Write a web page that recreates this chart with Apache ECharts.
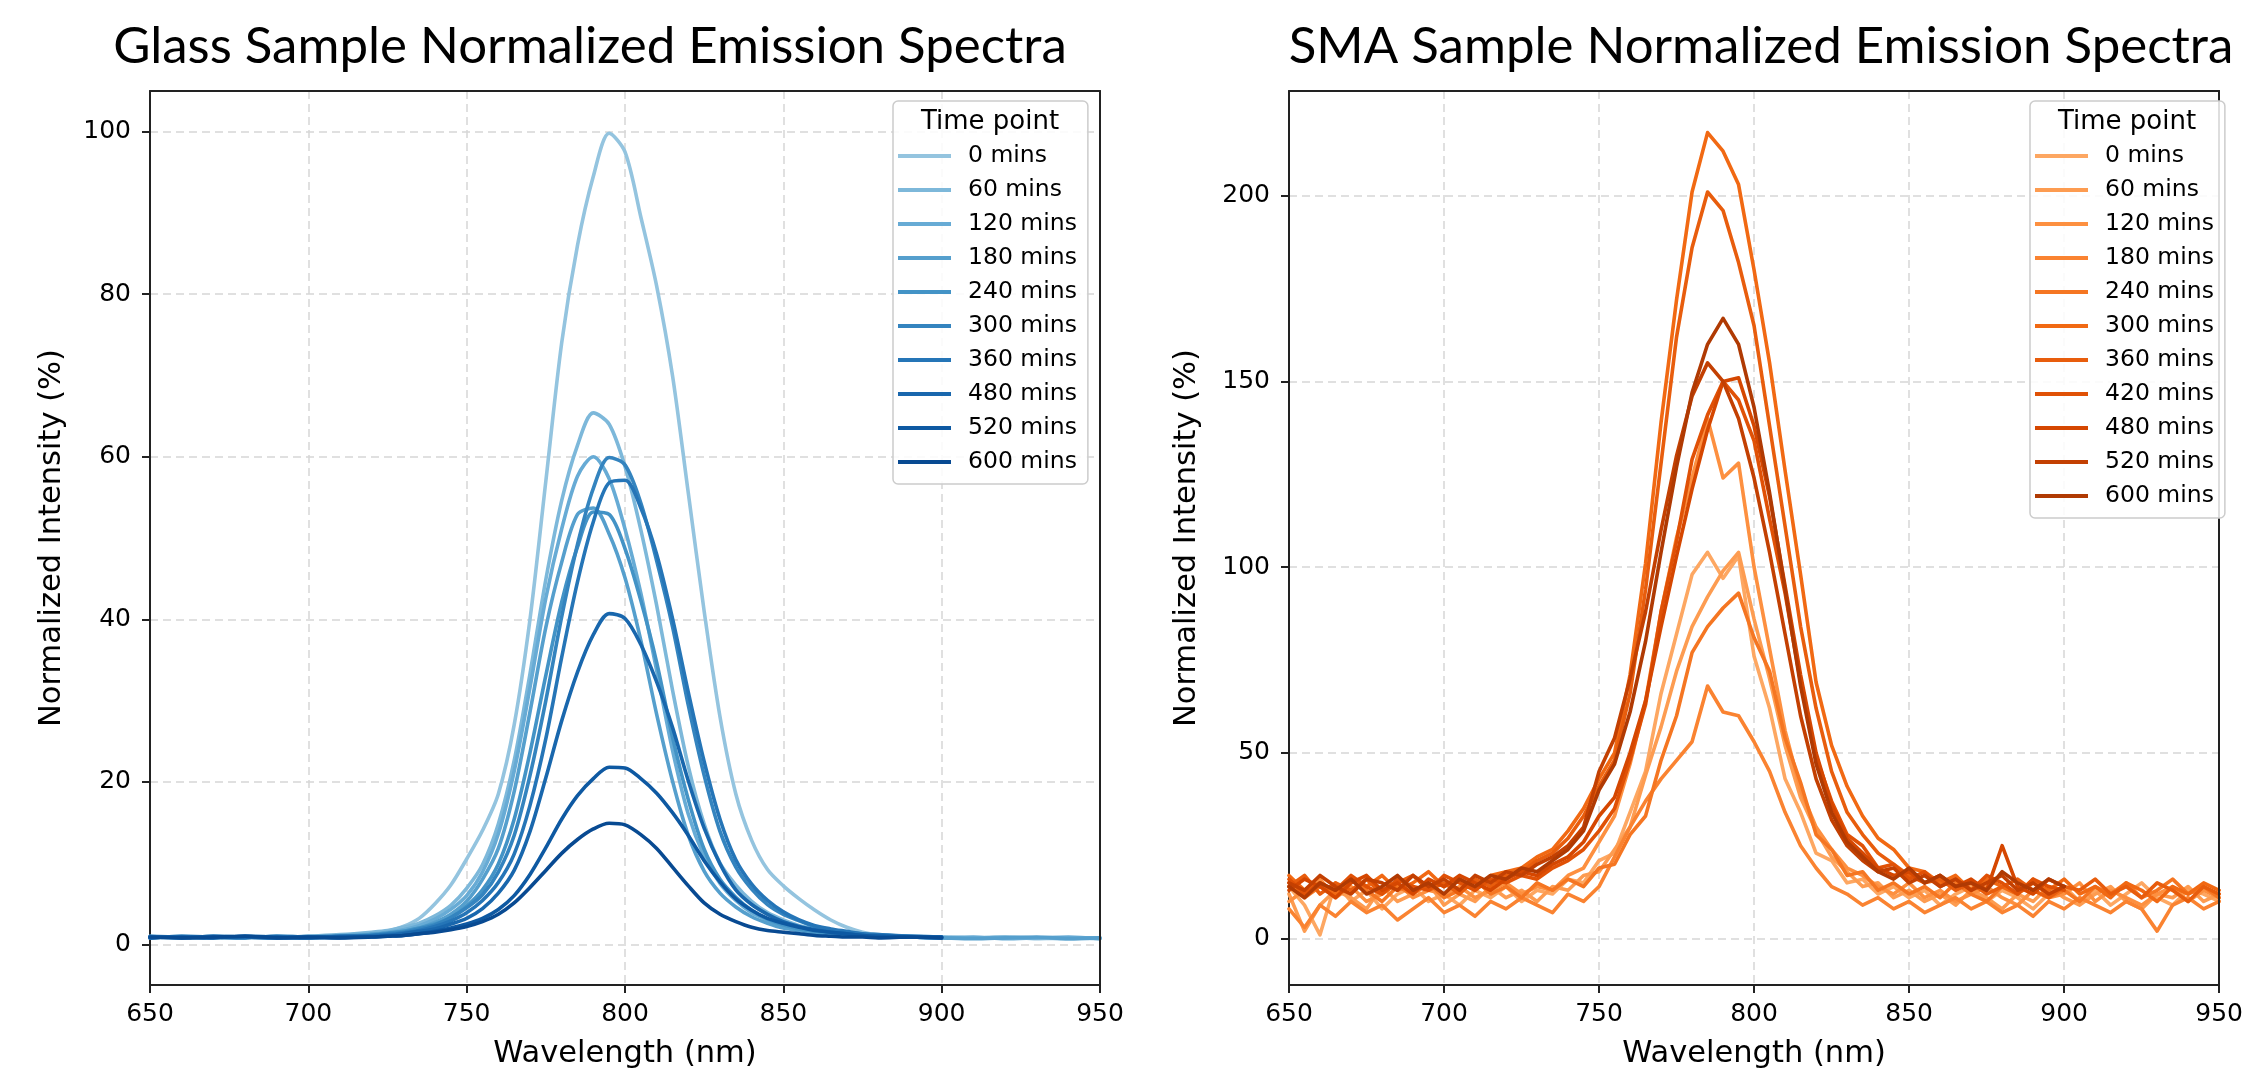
<!DOCTYPE html>
<html><head><meta charset="utf-8">
<script src="https://cdn.jsdelivr.net/npm/echarts/dist/echarts.min.js"></script>
<style>html,body{margin:0;padding:0;background:#fff}#chart{width:2246px;height:1075px}</style>
</head><body><div id="chart"></div>
<script>
// ---------------- Glass sample data ----------------
const wavelengthGlass = [650,660,670,680,690,700,710,720,725,730,735,740,745,750,755,760,765,770,775,780,785,790,795,800,805,810,815,820,825,830,835,840,845,850,855,860,865,870,875,880,890,900,910,920,930,940,950];
const glass_0   = [0.8,0.9,0.8,0.9,1.0,0.9,1.1,1.3,1.6,2.2,3.2,5.0,7.3,10.5,14.0,18.5,27.0,40.0,57.0,74.0,86.0,94.5,99.8,97.5,89.5,81.0,70.0,55.5,41.0,28.0,18.5,12.8,9.2,7.2,5.6,4.2,3.0,2.1,1.5,1.2,1.0,0.9,0.8,0.9,0.7,0.8,0.7];
const glass_60  = [0.9,0.8,1.0,0.9,0.8,1.0,1.2,1.5,1.7,2.1,2.6,3.5,4.8,6.9,9.8,14.8,22.6,33.3,44.9,54.6,61.4,65.4,64.0,58.8,51.0,41.7,31.3,21.9,14.8,10.0,7.3,5.3,3.9,3.0,2.3,1.9,1.6,1.4,1.2,1.1,1.0,0.9,0.8,0.9,0.8,0.7,0.8];
const glass_120 = [1.0,0.8,0.9,1.0,0.9,0.8,1.1,1.3,1.5,1.8,2.3,3.1,4.3,6.0,8.9,13.6,21.3,31.6,42.6,51.1,57.6,60.0,57.3,51.1,43.2,33.7,23.9,16.0,10.8,7.5,5.4,3.9,3.0,2.3,1.8,1.5,1.3,1.2,1.1,1.0,0.9,0.8,0.9,0.7,0.8,0.9,0.7];
const glass_180 = [0.8,1.0,0.9,0.8,1.0,0.9,1.0,1.2,1.3,1.6,2.0,2.7,3.7,5.3,8.0,11.8,18.8,28.6,39.0,47.0,52.9,53.7,50.5,45.1,37.4,28.3,20.1,13.4,9.0,6.3,4.6,3.4,2.6,2.0,1.7,1.4,1.2,1.1,1.0,1.0,0.9,0.8,0.7,0.8,0.9,0.7,0.8];
const glass_240 = [0.9,0.8,1.0,0.9,0.8,1.0,0.9,1.2,1.4,1.6,2.0,2.5,3.3,4.7,6.7,9.9,15.4,23.6,33.1,42.1,48.9,53.2,52.9,48.7,42.3,34.7,25.5,17.8,11.7,8.0,5.8,4.2,3.1,2.4,1.9,1.6,1.3,1.2,1.1,1.0,0.9,0.8];
const glass_300 = [1.0,0.9,0.8,1.0,0.9,0.8,1.0,1.1,1.3,1.5,1.9,2.4,3.3,4.5,6.1,8.9,13.4,20.8,30.0,40.3,49.2,56.1,59.9,59.0,54.3,47.2,39.1,29.4,20.8,13.9,9.5,6.8,4.9,3.7,2.9,2.2,1.8,1.5,1.3,1.1,1.0,0.9];
const glass_360 = [0.8,1.0,0.9,0.8,1.0,0.9,0.8,1.1,1.2,1.4,1.7,2.2,2.9,3.9,5.4,7.6,11.1,17.1,25.3,35.3,44.6,52.0,56.8,57.1,53.7,48.0,40.1,31.0,22.5,15.4,10.4,7.4,5.4,4.0,3.0,2.3,1.9,1.6,1.3,1.2,1.0,0.9];
const glass_480 = [0.9,0.8,1.0,0.9,0.8,0.9,1.0,1.0,1.1,1.3,1.6,1.9,2.5,3.2,4.4,6.3,9.1,13.9,20.5,27.5,33.5,38.1,40.7,40.1,36.9,32.3,26.7,20.1,14.3,9.9,6.7,4.9,3.7,2.8,2.2,1.8,1.5,1.3,1.1,1.0,0.9,0.8];
const glass_520 = [0.8,0.9,0.8,1.0,0.9,0.8,0.9,0.9,1.0,1.1,1.3,1.6,2.0,2.5,3.2,4.3,6.0,8.6,11.9,15.4,18.3,20.4,21.8,21.7,20.4,18.6,16.2,13.4,10.3,7.7,5.6,4.2,3.2,2.6,2.1,1.7,1.5,1.3,1.1,1.0,0.9,0.9];
const glass_600 = [0.9,0.8,0.9,1.0,0.8,0.9,0.8,0.9,1.0,1.1,1.3,1.5,1.8,2.2,2.8,3.7,5.1,7.0,9.1,11.2,12.9,14.2,14.9,14.7,13.5,11.8,9.5,7.2,5.1,3.7,2.8,2.1,1.7,1.5,1.3,1.1,1.0,0.9,0.9,0.8,0.9,0.8];
const glassNames  = ['0 mins','60 mins','120 mins','180 mins','240 mins','300 mins','360 mins','480 mins','520 mins','600 mins'];
const glassColors = ['#94c4df','#7db8da','#67abd5','#559fcd','#4393c6','#3484bf','#2575b7','#1967ad','#0e59a2','#084a92'];
const glassYTicks = [0,20,40,60,80,100];

// ---------------- SMA sample data ----------------
const wavelengthSMA = [650,655,660,665,670,675,680,685,690,695,700,705,710,715,720,725,730,735,740,745,750,755,760,765,770,775,780,785,790,795,800,805,810,815,820,825,830,835,840,845,850,855,860,865,870,875,880,885,890,895,900,905,910,915,920,925,930,935,940,945,950];
const sma_0   = [14,9,1,15,10,13,8,12,14,10,12,9,13,11,14,10,13,12,16,15,21,23,34,45,66,82,98,104,97,103,76,62,43,34,23,21,15,16,12,14,11,13,9,12,14,10,13,11,8,12,14,10,13,9,12,15,11,9,13,12,10];
const sma_60  = [12,2,9,13,11,8,14,10,12,15,9,12,10,14,11,13,10,14,13,17,18,24,30,44,57,72,84,92,99,104,86,70,52,38,29,22,18,14,15,11,13,10,12,9,13,11,8,12,10,14,11,9,12,14,10,8,12,11,14,10,12];
const sma_120 = [10,13,16,11,14,10,12,15,11,13,12,14,11,13,15,12,14,13,17,19,26,33,47,64,88,108,124,140,124,128,100,78,56,40,30,24,19,17,14,12,15,11,13,10,12,14,11,9,13,11,12,15,10,13,11,9,12,14,10,13,11];
const sma_180 = [8,3,9,6,10,7,9,5,8,11,7,9,6,10,8,11,9,7,12,10,14,22,30,37,43,48,53,68,61,60,53,45,34,25,19,14,12,9,11,8,10,7,9,11,8,10,7,9,6,10,8,11,9,7,10,8,2,9,11,8,10];
const sma_240 = [15,11,14,12,16,13,10,14,12,15,11,13,16,12,14,11,15,13,16,14,19,20,28,33,48,60,77,84,89,93,81,72,54,42,28,24,17,18,13,15,12,14,11,15,12,10,14,12,16,11,13,10,14,12,15,11,13,16,12,14,11];
const sma_300 = [17,13,15,12,16,14,17,13,15,18,14,16,13,17,18,19,22,24,29,35,43,50,71,101,139,172,201,217,212,203,180,155,126,98,69,52,41,33,27,24,19,18,15,17,13,16,14,12,15,13,16,12,14,11,15,13,10,14,12,15,13];
const sma_360 = [14,17,12,15,13,16,12,15,17,13,15,12,16,14,17,18,21,23,27,33,41,48,66,94,128,162,186,201,196,182,165,138,111,84,62,45,34,28,23,20,17,15,16,13,15,12,14,16,13,11,14,13,16,12,14,11,15,13,10,14,12];
const sma_420 = [16,12,15,13,17,14,12,16,14,13,17,15,13,16,15,17,16,19,21,24,29,35,48,63,88,107,129,141,150,145,134,113,93,69,49,37,28,25,19,20,16,18,14,16,13,17,15,12,16,14,13];
const sma_480 = [13,16,14,11,15,17,13,15,12,16,14,17,15,13,16,18,17,20,22,26,33,38,50,64,84,103,121,137,150,151,138,119,95,71,50,36,27,23,19,17,18,15,17,14,16,13,25,14,12,16,14];
const sma_520 = [15,13,17,14,12,16,15,13,17,14,16,13,17,15,18,17,20,22,25,30,45,54,70,88,110,130,146,155,150,140,124,104,82,60,43,32,25,21,18,19,15,17,14,16,13,15,17,13,15,12,14];
const sma_600 = [14,11,15,13,16,12,14,17,13,15,12,16,14,17,16,19,18,21,24,29,40,47,61,80,104,127,147,160,167,160,143,120,94,68,47,34,26,22,18,16,19,15,17,14,15,13,18,15,13,16,14];
const smaNames  = ['0 mins','60 mins','120 mins','180 mins','240 mins','300 mins','360 mins','420 mins','480 mins','520 mins','600 mins'];
const smaColors = ['#fda762','#fd9c51','#fd9040','#fa8331','#f57622','#f16913','#e85d0d','#e05106','#d54701','#c34002','#b03a03'];
const smaYTicks = [0,50,100,150,200];

// ---------------- build chart ----------------
const FONT = 'DejaVu Sans';
const glassValues = [glass_0,glass_60,glass_120,glass_180,glass_240,glass_300,glass_360,glass_480,glass_520,glass_600];
const smaValues = [sma_0,sma_60,sma_120,sma_180,sma_240,sma_300,sma_360,sma_420,sma_480,sma_520,sma_600];

function pairs(xs, ys){ return ys.map((v,i)=>[xs[i], v]); }

const series = [];
glassValues.forEach((vals,i)=>{
  series.push({type:'line', name:'Glass '+glassNames[i], xAxisIndex:0, yAxisIndex:0,
    data: pairs(wavelengthGlass, vals), showSymbol:false, symbol:'none', smooth:0.3,
    lineStyle:{color:glassColors[i], width:3.6, join:'round', cap:'round'}, itemStyle:{color:glassColors[i]}});
});
smaValues.forEach((vals,i)=>{
  series.push({type:'line', name:'SMA '+smaNames[i], xAxisIndex:1, yAxisIndex:1,
    data: pairs(wavelengthSMA, vals), showSymbol:false, symbol:'none',
    lineStyle:{color:smaColors[i], width:3.6, join:'round', cap:'round'}, itemStyle:{color:smaColors[i]}});
});

const gridLine = {show:true, lineStyle:{type:[8,5], color:'#d6d6d6', width:1.5}};
const frame = {show:true, onZero:false, lineStyle:{color:'#222', width:2}};
function xAxis(g){
  return {type:'value', gridIndex:g, min:650, max:950, interval:50,
    axisLine:frame,
    axisTick:{show:true, length:8, lineStyle:{color:'#222', width:2}},
    axisLabel:{margin:17, fontSize:25, fontFamily:FONT, color:'#000', showMaxLabel:true, showMinLabel:true},
    splitLine:gridLine,
    name:'Wavelength (nm)', nameLocation:'middle', nameGap:54,
    nameTextStyle:{fontSize:30.5, fontFamily:FONT, color:'#000'}};
}
function xFrame(g){
  return {type:'value', gridIndex:g, min:650, max:950, position:'top', z:10,
    axisLine:frame, axisTick:{show:false}, axisLabel:{show:false}, splitLine:{show:false}};
}
function yAxis(g, min, max, ticks, gap){
  return {type:'value', gridIndex:g, min:min, max:max,
    axisLine:frame,
    axisTick:{show:true, length:8, lineStyle:{color:'#222', width:2}, customValues:ticks},
    axisLabel:{margin:19, fontSize:25, fontFamily:FONT, color:'#000', customValues:ticks},
    splitLine:gridLine,
    name:'Normalized Intensity (%)', nameLocation:'middle', nameGap:gap,
    nameTextStyle:{fontSize:30.5, fontFamily:FONT, color:'#000'}};
}
function yFrame(g, min, max){
  return {type:'value', gridIndex:g, min:min, max:max, position:'right', z:10,
    axisLine:frame, axisTick:{show:false}, axisLabel:{show:false}, splitLine:{show:false}};
}
function legend(left, top, names, prefix){
  return {show:true, orient:'vertical', left:left, top:top, icon:'rect', itemWidth:53, itemHeight:4, itemGap:10, z:20,
    padding:[43,11,10,5], backgroundColor:'rgba(255,255,255,0.85)', borderColor:'#cccccc', borderWidth:1.5, borderRadius:5,
    selectedMode:false, data: names.map(n=>prefix+n),
    formatter: n => n.replace(prefix,''),
    textStyle:{fontFamily:FONT, fontSize:23.5, color:'#000', lineHeight:24, padding:[0,0,0,12]}};
}

const option = {
  animation:false,
  backgroundColor:'#ffffff',
  grid:[
    {left:150, top:91, width:950, height:902},
    {left:1289, top:91, width:950, height:902}
  ],
  xAxis:[xAxis(0), xAxis(1), xFrame(0), xFrame(1)],
  yAxis:[yAxis(0,-5,105,glassYTicks,82), yAxis(1,-12.5,228.2,smaYTicks,86), yFrame(0,-5,105), yFrame(1,-12.5,228.2)],
  legend:[legend(893,101,glassNames,'Glass '), legend(2030,101,smaNames,'SMA ')],
  graphic:[
    {type:'text', x:590, y:47, z:100, style:{text:'Glass Sample Normalized Emission Spectra', font:'51px Lato', fill:'#000', textAlign:'center', textVerticalAlign:'middle'}},
    {type:'text', x:1761, y:47, z:100, style:{text:'SMA Sample Normalized Emission Spectra', font:'51px Lato', fill:'#000', textAlign:'center', textVerticalAlign:'middle'}},
    {type:'text', x:990, y:122, z:100, style:{text:'Time point', font:'26px "DejaVu Sans"', fill:'#000', textAlign:'center', textVerticalAlign:'middle'}},
    {type:'text', x:2127, y:122, z:100, style:{text:'Time point', font:'26px "DejaVu Sans"', fill:'#000', textAlign:'center', textVerticalAlign:'middle'}}
  ],
  series: series
};
const chart = echarts.init(document.getElementById('chart'));
chart.setOption(option);
</script></body></html>
